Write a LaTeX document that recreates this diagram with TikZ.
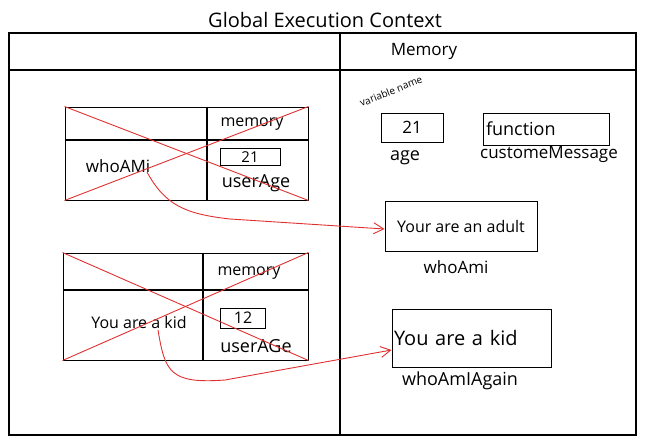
\documentclass[tikz,border=0pt]{standalone}
\usepackage{fontspec}
\setmainfont{Open Sans}
\usetikzlibrary{arrows.meta}
\definecolor{xred}{RGB}{224,49,49}
\begin{document}
\begin{tikzpicture}[x=1pt,y=-1pt,
  frame/.style={draw=black,line width=1.1pt,inner sep=0pt},
  box/.style={draw=black,line width=1pt,inner sep=0pt},
  rule/.style={draw=black,line width=1.1pt},
  cross/.style={draw=xred,line width=0.9pt},
  ptr/.style={draw=xred,line width=0.9pt,-{Straight Barb[length=10pt,width=11pt]}},
  fs/.style={font=\fontsize{#1}{#1}\selectfont,inner sep=0pt}
]
\useasboundingbox (0,0) rectangle (647,447);

% title and outer frame
\node[fs=20] (title) at (325,20) {Global Execution Context};
\node[frame,minimum width=627,minimum height=402] (gec) at (322.5,234) {};
\coordinate (hl) at (0,70);
\coordinate (vl) at (340,0);
\draw[rule] (gec.west |- hl) -- (gec.east |- hl);
\draw[rule] (gec.north -| vl) -- (gec.south -| vl);
\node[fs=17] (mem) at (424,51) {Memory};

% first call frame (crossed out)
\node[box,minimum width=243,minimum height=93] (t1) at (186.5,153.5) {};
\coordinate (t1r) at (0,140);
\coordinate (t1c) at (207,0);
\draw[rule] (t1.west |- t1r) -- (t1.east |- t1r);
\draw[rule] (t1.north -| t1c) -- (t1.south -| t1c);
\node[fs=16] (t1mem) at (252,124) {memory};
\node[box,minimum width=60,minimum height=17,fs=15] (t1v) at (250,157) {21};
\node[fs=18] (t1age) at (256,183) {userAge};
\node[fs=17] (w1) at (118,166) {whoAMi};
\coordinate (w1out) at (147,172);
\draw[cross] (t1.north west) -- (t1.south east);
\draw[cross] (t1.south west) -- (t1.north east);

% second call frame (crossed out)
\node[box,minimum width=245,minimum height=107] (t2) at (185.5,306.5) {};
\coordinate (t2r) at (0,290);
\coordinate (t2c) at (203,0);
\draw[rule] (t2.west |- t2r) -- (t2.east |- t2r);
\draw[rule] (t2.north -| t2c) -- (t2.south -| t2c);
\node[fs=16] (t2mem) at (249,273) {memory};
\node[box,minimum width=45,minimum height=20,fs=16] (t2v) at (243,318) {12};
\node[fs=18] (t2age) at (256,346) {userAGe};
\node[fs=16] (k1) at (139,322) {You are a kid};
\coordinate (k1out) at (158,330);
\draw[cross] (t2.north west) -- (t2.south east);
\draw[cross] (t2.south west) -- (t2.north east);

% global memory
\node[fs=10,rotate=22] (vn) at (391,91) {variable name};
\node[box,minimum width=62,minimum height=29,fs=17] (age) at (412,127.5) {21};
\node[fs=18] (agel) at (405,158) {age};
\node[box,minimum width=126,minimum height=32,fs=18,text width=120,align=left] (fn) at (546,129) {function};
\node[fs=17] (fnl) at (549,154) {customeMessage};
\node[box,minimum width=152,minimum height=50,fs=16] (adult) at (461,226) {Your are an adult};
\node[fs=17] (adultl) at (456,267) {whoAmi};
\node[box,minimum width=159,minimum height=58,fs=20,text width=155,align=left] (kid) at (471.5,338) {You are a kid\\[10pt]};
\node[fs=18] (kidl) at (460,381) {whoAmIAgain};

% pointers from the call sites to the stored results
\draw[ptr] (w1out) .. controls (165,205) and (185,214) .. (230,219) -- ([yshift=-3pt]adult.west);
\draw[ptr] (k1out) .. controls (165,372) and (170,384) .. (225,380) -- ([yshift=-12pt]kid.west);
\end{tikzpicture}
\end{document}
